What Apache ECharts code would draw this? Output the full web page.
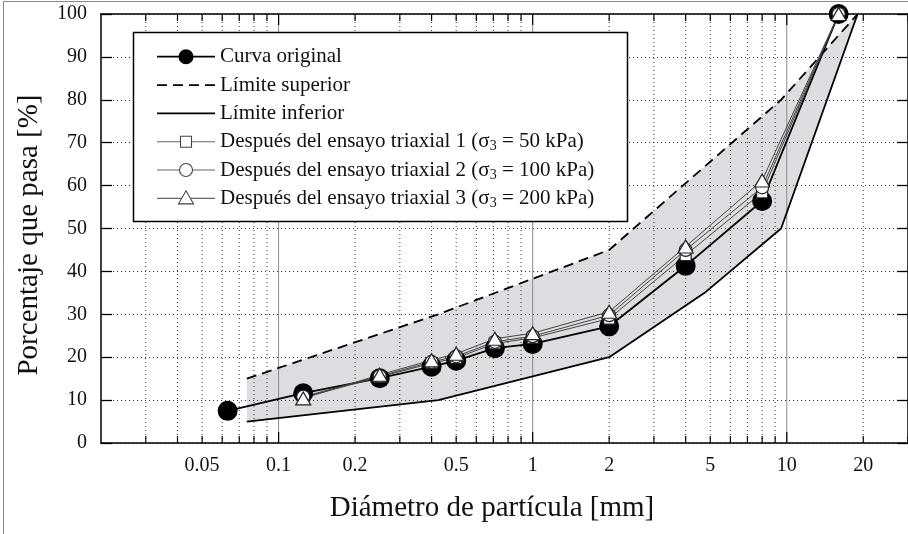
<!DOCTYPE html>
<html>
<head>
<meta charset="utf-8">
<script src="https://cdn.jsdelivr.net/npm/echarts@6/dist/echarts.min.js"></script>
<style>
  html, body { margin: 0; padding: 0; background: #fff; }
  #chart { width: 908px; height: 534px; }
</style>
</head>
<body>
<div id="chart"></div>
<script>
// Grain size distribution: particle diameter (mm) vs. percent passing
const sizesOriginal = [0.063, 0.125, 0.25, 0.4, 0.5, 0.71, 1, 2, 4, 8, 16];
const passOriginal  = [7.5, 11.6, 15.1, 17.8, 19.2, 22.1, 23.1, 27.2, 41.3, 56.4, 100];

const sizesTriaxial = [0.125, 0.25, 0.4, 0.5, 0.71, 1, 2, 4, 8, 16];
const passTriaxial1 = [10.6, 15.4, 18.6, 19.8, 23.2, 24.5, 29.0, 43.8, 58.4, 100];
const passTriaxial2 = [10.8, 15.6, 18.9, 20.2, 23.6, 24.9, 29.8, 45.0, 59.6, 100];
const passTriaxial3 = [10.4, 15.9, 19.3, 20.8, 24.3, 25.6, 30.6, 45.8, 61.2, 100];

const sizesUpper = [0.075, 0.425, 2, 9.5, 19];
const passUpper  = [15, 30, 45, 80, 100];
const sizesLower = [0.075, 0.425, 2, 4.75, 9.5, 19];
const passLower  = [5, 10, 20, 35, 50, 100];

// Log-axis tick positions and labels
const xLabelValues = [0.05, 0.1, 0.2, 0.5, 1, 2, 5, 10, 20];
const xMajorValues = [0.1, 1, 10];
const xMinorValues = [0.03, 0.04, 0.05, 0.06, 0.07, 0.08, 0.09,
                      0.2, 0.3, 0.4, 0.5, 0.6, 0.7, 0.8, 0.9,
                      2, 3, 4, 5, 6, 7, 8, 9, 20, 30];

const legendNames = [
  'Curva original',
  'Límite superior',
  'Límite inferior',
  'Después del ensayo triaxial 1 (σ',
  'Después del ensayo triaxial 2 (σ',
  'Después del ensayo triaxial 3 (σ'
];
const legendStress = ['50 kPa', '100 kPa', '200 kPa'];

const SERIF = '"Liberation Serif", "Times New Roman", serif';
const pairs = (xs, ys) => xs.map((x, i) => [x, ys[i]]);
const upperPts = pairs(sizesUpper, passUpper);
const lowerPts = pairs(sizesLower, passLower);

const chart = echarts.init(document.getElementById('chart'), null, { renderer: 'canvas' });

const axisLineStyle = { color: '#000', width: 1.5 };

// Legend drawn as a framed block of graphic elements
const legendChildren = [];
const LX = 133.5, LY = 32.5, LW = 494, LH = 189;
legendChildren.push({
  type: 'rect', z: 100,
  shape: { x: LX, y: LY, width: LW, height: LH },
  style: { fill: '#fff', stroke: '#000', lineWidth: 1.5 }
});
const rowY = i => 56.7 + i * 28.33;
const sx0 = 157, sx1 = 215, scx = 186;
legendNames.forEach((name, i) => {
  const y = rowY(i);
  if (i === 0) {
    legendChildren.push({ type: 'line', z: 101, shape: { x1: sx0, y1: y, x2: sx1, y2: y }, style: { stroke: '#000', lineWidth: 1.8 } });
    legendChildren.push({ type: 'circle', z: 102, shape: { cx: scx, cy: y, r: 7.5 }, style: { fill: '#000' } });
  } else if (i === 1) {
    legendChildren.push({ type: 'line', z: 101, shape: { x1: sx0, y1: y, x2: sx1, y2: y }, style: { stroke: '#000', lineWidth: 1.8, lineDash: [10, 6] } });
  } else if (i === 2) {
    legendChildren.push({ type: 'line', z: 101, shape: { x1: sx0, y1: y, x2: sx1, y2: y }, style: { stroke: '#000', lineWidth: 1.8 } });
  } else {
    legendChildren.push({ type: 'line', z: 101, shape: { x1: sx0, y1: y, x2: sx1, y2: y }, style: { stroke: '#666', lineWidth: 1.1 } });
    const mk = { fill: '#fff', stroke: '#444', lineWidth: 1.1 };
    if (i === 3) legendChildren.push({ type: 'rect', z: 102, shape: { x: scx - 5.5, y: y - 5.5, width: 11, height: 11 }, style: mk });
    if (i === 4) legendChildren.push({ type: 'circle', z: 102, shape: { cx: scx, cy: y, r: 6.5 }, style: mk });
    if (i === 5) legendChildren.push({ type: 'polygon', z: 102, shape: { points: [[scx, y - 7.5], [scx + 7.5, y + 5.5], [scx - 7.5, y + 5.5]] }, style: mk });
  }
  const text = i < 3
    ? '{n|' + name + '}'
    : '{n|' + name + '}{s|3}{n| = ' + legendStress[i - 3] + ')}';
  legendChildren.push({
    type: 'text', z: 102, x: 220, y: y,
    style: {
      text: text, verticalAlign: 'middle', align: 'left',
      rich: {
        n: { fontSize: 21, fontFamily: SERIF, fill: '#111', lineHeight: 24, verticalAlign: 'middle' },
        s: { fontSize: 14, fontFamily: SERIF, fill: '#111', lineHeight: 14, verticalAlign: 'bottom', padding: [8, 0, 0, 0] }
      }
    }
  });
});

const option = {
  animation: false,
  backgroundColor: '#fff',
  grid: { left: 101, top: 14, width: 811.6, height: 429, containLabel: false },
  xAxis: [
    {
      type: 'log', logBase: 10, min: 0.02, max: 30, position: 'bottom',
      axisLine: { show: true, onZero: false, lineStyle: axisLineStyle },
      axisTick: { show: false }, axisLabel: { show: false }, splitLine: { show: false }
    },
    {
      type: 'log', logBase: 10, min: 0.02, max: 30, position: 'top',
      axisLine: { show: true, onZero: false, lineStyle: axisLineStyle },
      axisTick: { show: false }, axisLabel: { show: false }, splitLine: { show: false }
    }
  ],
  yAxis: [
    {
      type: 'value', min: 0, max: 100, interval: 10, position: 'left',
      axisLine: { show: true, lineStyle: axisLineStyle },
      axisTick: { show: true, inside: true, length: 11, lineStyle: { color: '#000', width: 1.3 } },
      axisLabel: { margin: 14, color: '#111', fontSize: 20, fontFamily: SERIF },
      splitLine: { show: true, lineStyle: { color: '#333', width: 1, type: [1, 3] } }
    },
    {
      type: 'value', min: 0, max: 100, interval: 10, position: 'right',
      axisLine: { show: true, lineStyle: axisLineStyle },
      axisTick: { show: true, inside: true, length: 11, lineStyle: { color: '#000', width: 1.3 } },
      axisLabel: { show: false }, splitLine: { show: false }
    }
  ],
  graphic: [
    { type: 'rect', z: 100, silent: true, shape: { x: 3.5, y: 1.5, width: 1200, height: 1200 }, style: { fill: 'none', stroke: '#888', lineWidth: 1 } },
    { type: 'group', children: legendChildren },
    {
      type: 'text', z: 100, x: 492, y: 508,
      style: { text: 'Diámetro de partícula [mm]', fontSize: 29, fontFamily: SERIF, fill: '#111', align: 'center', verticalAlign: 'middle' }
    },
    {
      type: 'text', z: 100, x: 29, y: 235, rotation: Math.PI / 2,
      style: { text: 'Porcentaje que pasa [%]', fontSize: 29, fontFamily: SERIF, fill: '#111', align: 'center', verticalAlign: 'middle' }
    }
  ],
  series: [
    {
      // Shaded band between the grading limits
      type: 'custom', z: -1, silent: true,
      data: [[1, 50]],
      renderItem: (params, api) => {
        const pts = upperPts.map(p => api.coord(p))
          .concat(lowerPts.slice().reverse().map(p => api.coord(p)));
        return { type: 'polygon', shape: { points: pts }, style: { fill: '#dcdde0' } };
      }
    },
    {
      // Dotted vertical grid lines
      type: 'custom', z: 1, silent: true,
      data: xMinorValues.map(v => [v, 0]),
      renderItem: (params, api) => {
        const p0 = api.coord([api.value(0), 0]);
        const p1 = api.coord([api.value(0), 100]);
        return { type: 'line', shape: { x1: p0[0], y1: p0[1], x2: p1[0], y2: p1[1] },
                 style: { stroke: '#333', lineWidth: 1, lineDash: [1, 3] } };
      }
    },
    {
      // Solid decade lines
      type: 'custom', z: 1, silent: true,
      data: xMajorValues.map(v => [v, 0]),
      renderItem: (params, api) => {
        const p0 = api.coord([api.value(0), 0]);
        const p1 = api.coord([api.value(0), 100]);
        return { type: 'line', shape: { x1: p0[0], y1: p0[1], x2: p1[0], y2: p1[1] },
                 style: { stroke: '#8a8a8a', lineWidth: 1 } };
      }
    },
    {
      name: 'Límite superior', type: 'line', data: upperPts, symbol: 'none',
      lineStyle: { color: '#000', width: 1.8, type: [10, 6] }
    },
    {
      name: 'Límite inferior', type: 'line', data: lowerPts, symbol: 'none',
      lineStyle: { color: '#000', width: 1.8 }
    },
    {
      name: 'Curva original', type: 'line', data: pairs(sizesOriginal, passOriginal),
      symbol: 'circle', symbolSize: 20,
      lineStyle: { color: '#000', width: 1.8 }, itemStyle: { color: '#000' }
    },
    {
      name: 'Triaxial 1', type: 'line', data: pairs(sizesTriaxial, passTriaxial1),
      symbol: 'rect', symbolSize: 11,
      lineStyle: { color: '#444', width: 1 },
      itemStyle: { color: '#fff', borderColor: '#222', borderWidth: 1.2 }
    },
    {
      name: 'Triaxial 2', type: 'line', data: pairs(sizesTriaxial, passTriaxial2),
      symbol: 'circle', symbolSize: 13,
      lineStyle: { color: '#444', width: 1 },
      itemStyle: { color: '#fff', borderColor: '#222', borderWidth: 1.2 }
    },
    {
      name: 'Triaxial 3', type: 'line', data: pairs(sizesTriaxial, passTriaxial3),
      symbol: 'triangle', symbolSize: [15, 13],
      lineStyle: { color: '#444', width: 1 },
      itemStyle: { color: '#fff', borderColor: '#222', borderWidth: 1.2 }
    },
    {
      // Inward ticks on bottom and top axes
      type: 'custom', z: 5, silent: true,
      data: xMinorValues.map(v => [v, 7]).concat(xMajorValues.map(v => [v, 11])),
      renderItem: (params, api) => {
        const len = api.value(1);
        const b = api.coord([api.value(0), 0]);
        const t = api.coord([api.value(0), 100]);
        const st = { stroke: '#000', lineWidth: 1.2 };
        return { type: 'group', children: [
          { type: 'line', shape: { x1: b[0], y1: b[1], x2: b[0], y2: b[1] - len }, style: st },
          { type: 'line', shape: { x1: t[0], y1: t[1], x2: t[0], y2: t[1] + len }, style: st }
        ] };
      }
    },
    {
      // Bottom axis labels
      type: 'custom', z: 5, silent: true,
      data: xLabelValues.map(v => [v, 0]),
      renderItem: (params, api) => {
        const v = api.value(0);
        const p = api.coord([v, 0]);
        return { type: 'text', x: p[0], y: p[1] + 23,
                 style: { text: String(v), fontSize: 20, fontFamily: SERIF, fill: '#111', align: 'center', verticalAlign: 'middle' } };
      }
    }
  ]
};

chart.setOption(option);
</script>
</body>
</html>
